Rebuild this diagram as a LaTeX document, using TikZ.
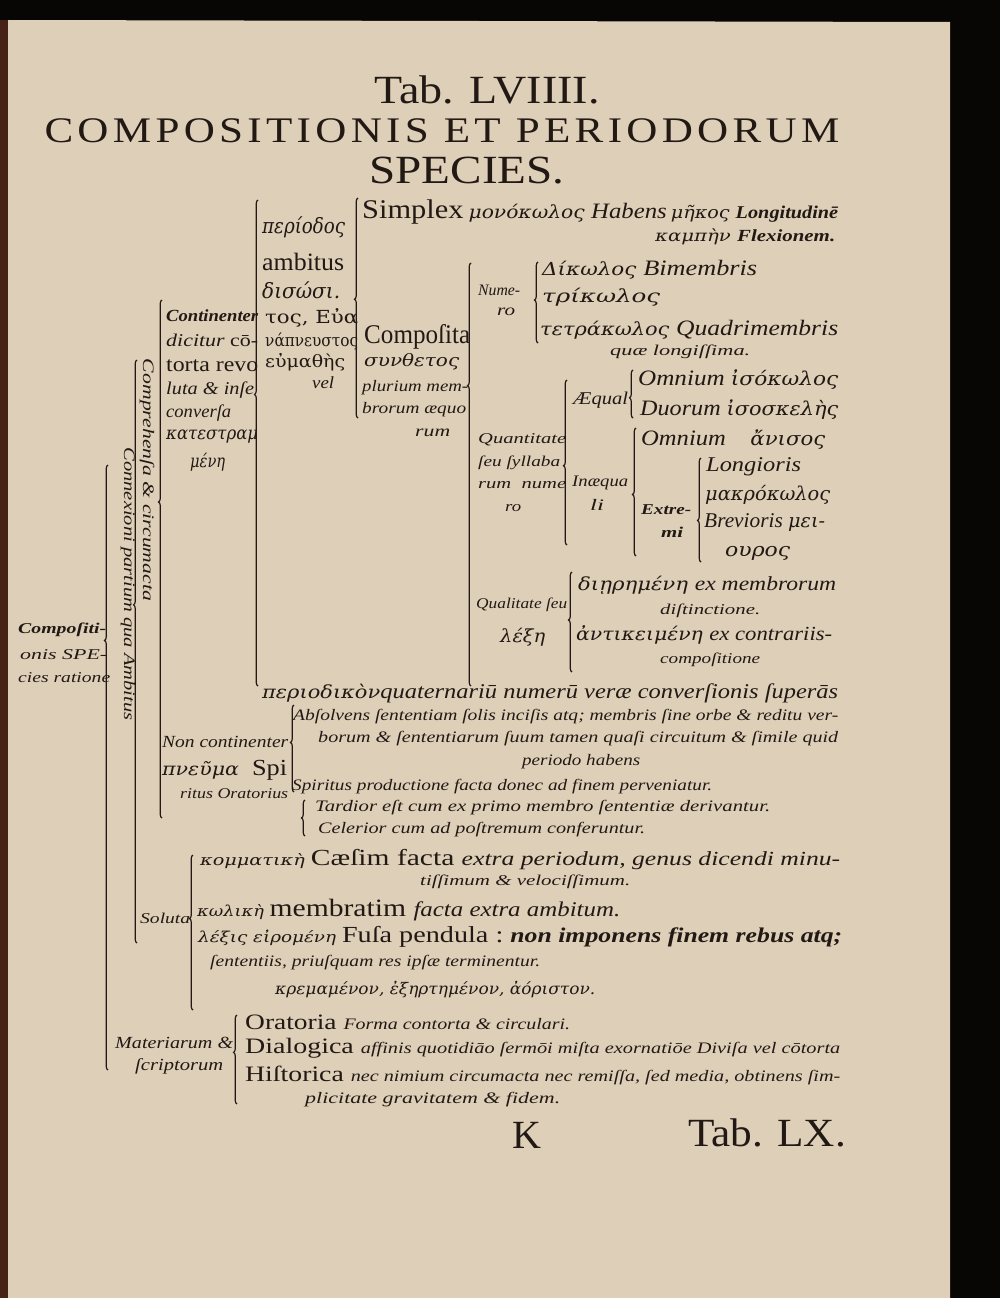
\documentclass[tikz,border=0pt]{standalone}
\usepackage{fontspec}
\setmainfont{Liberation Serif}
\newfontfamily\grk{DejaVu Serif}
\usepackage{graphicx}
\usetikzlibrary{decorations.pathreplacing}
\definecolor{ink}{RGB}{34,25,20}
\definecolor{paper}{RGB}{221,207,184}
\definecolor{scanblack}{RGB}{8,6,5}
\definecolor{spine}{RGB}{70,35,22}
\newcommand{\fs}[1]{\fontsize{#1}{#1}\selectfont}
\newcommand{\fw}[2]{\resizebox{#1pt}{\height}{#2}}

\begin{document}
\begin{tikzpicture}[
    x=1pt, y=-1pt,
    txt/.style={anchor=west, inner sep=0pt, text=ink, font=\itshape},
    upr/.style={txt, font=\upshape},
    ctr/.style={inner sep=0pt, text=ink, font=\upshape},
    vert/.style={inner sep=0pt, text=ink, font=\itshape, rotate=-90},
    brk/.style={draw=ink, line width=1.2pt, decorate,
                decoration={brace, amplitude=3.5pt, aspect=#1}}
]
\useasboundingbox (0,0) rectangle (1000,1298);

% Scan and page
\fill[scanblack] (0,0) rectangle (1000,1298);
\fill[paper] (8,20) -- (950,22) -- (950,1298) -- (8,1298) -- cycle;
\fill[spine] (0,20) rectangle (8,1298);

% Title
\node[ctr] (tab)  at (487,90)  {\fw{225}{\fs{40}Tab. LVIIII.}};
\node[ctr] (comp) at (442,131) {\fw{795}{\fs{36}\addfontfeature{LetterSpace=10}COMPOSITIONIS ET PERIODORUM}};
\node[ctr] (spec) at (467,171) {\fw{195}{\fs{40}SPECIES.}};

% Margin labels
\node[txt] (cspec1) at (18,630) {\fw{88}{\bfseries\fs{15}Compoſiti-}};
\node[txt] (cspec2) at (20,655) {\fw{87}{\fs{15}onis SPE-}};
\node[txt] (cspec3) at (18,678) {\fw{92}{\fs{15}cies ratione}};
\node[vert] (connex)  at (128,584) {\fw{273}{\fs{16}Connexioni partium qua Ambitus}};
\node[vert] (compreh) at (147,480) {\fw{242}{\fs{16}Comprehenſa \& circumacta}};

% Continenter
\node[txt] (contin)  at (166,316) {\fw{92}{\bfseries\fs{17}Continenter}};
\node[txt] (dicit)   at (166,340) {\fw{92}{\fs{18}dicitur \upshape cō-}};
\node[upr] (torta)   at (166,366) {\fw{92}{\fs{21}torta revo}};
\node[txt] (luta)    at (166,390) {\fw{88}{\fs{18}luta \& inſe}};
\node[txt] (convers) at (166,413) {\fw{65}{\fs{18}converſa}};
\node[txt] (katestr) at (166,437) {\fw{92}{\fs{18}\grk κατεστραμ}};
\node[txt] (mene)    at (190,462) {\fw{35}{\fs{18}\grk μένη}};

% Periodus
\node[txt] (period) at (262,227) {\fw{83}{\fs{21}\grk περίοδος}};
\node[upr] (ambit)  at (262,262) {\fw{82}{\fs{25}ambitus}};
\node[txt] (disos)  at (262,290) {\fw{78}{\fs{21}\grk δισώσι.}};
\node[upr] (evan1)  at (265,318) {\fw{93}{\fs{18}\grk τος, Εὐα}};
\node[upr] (evan2)  at (265,341) {\fw{93}{\fs{17}\grk νάπνευστος}};
\node[upr] (evan3)  at (265,362) {\fw{80}{\fs{17}\grk εὐμαθὴς}};
\node[txt] (vel1)   at (312,383) {\fw{22}{\fs{17}vel}};

% Simplex
\node[txt] (simplex) at (362,212) {\fw{476}{\fs{27}\upshape Simplex\,\grk\itshape\fs{18}μονόκωλος\ \rmfamily\fs{22}Habens\,\grk\fs{17}μῆκος\ \rmfamily\bfseries\fs{18}Longitudinē}};
\node[txt] (flex)    at (655,237) {\fw{180}{\grk\fs{16}καμπὴν\ \rmfamily\bfseries\fs{17}Flexionem.}};

% Composita
\node[upr] (compos) at (364,337) {\fw{106}{\fs{27}Compoſita}};
\node[txt] (synth)  at (364,362) {\fw{95}{\fs{17}\grk συνθετος}};
\node[txt] (plur)   at (362,388) {\fw{106}{\fs{16}plurium mem-}};
\node[txt] (bror)   at (362,410) {\fw{104}{\fs{16}brorum æquo}};
\node[txt] (rum)    at (415,433) {\fw{35}{\fs{16}rum}};

% Numero
\node[txt] (nume)   at (478,290) {\fw{42}{\fs{16}Nume-}};
\node[txt] (ro1)    at (497,312) {\fw{18}{\fs{16}ro}};
\node[txt] (bimem)  at (542,270) {\fw{215}{\grk\fs{18}Δίκωλος\ \rmfamily\fs{22}Bimembris}};
\node[txt] (trik)   at (542,297) {\fw{118}{\grk\fs{18}τρίκωλος}};
\node[txt] (quadr)  at (540,330) {\fw{298}{\grk\fs{18}τετράκωλος\ \rmfamily\fs{22}Quadrimembris}};
\node[txt] (longis) at (610,352) {\fw{140}{\fs{15}quæ longiſſima.}};

% Quantitate
\node[txt] (quant1) at (478,440) {\fw{88}{\fs{15}Quantitate}};
\node[txt] (quant2) at (478,463) {\fw{82}{\fs{15}ſeu ſyllaba}};
\node[txt] (quant3) at (478,485) {\fw{88}{\fs{15}rum\ \ nume}};
\node[txt] (ro2)    at (505,508) {\fw{16}{\fs{15}ro}};
\node[txt] (aequal) at (573,400) {\fw{55}{\fs{18}Æqual}};
\node[txt] (inaeq)  at (572,483) {\fw{56}{\fs{16}Inæqua}};
\node[txt] (li)     at (590,505) {\fw{14}{\fs{16}li}};
\node[txt] (omn1)   at (638,380) {\fw{200}{\fs{22}Omnium \grk\fs{19}ἰσόκωλος}};
\node[txt] (duor)   at (640,410) {\fw{198}{\fs{22}Duorum \grk\fs{19}ἰσοσκελὴς}};
\node[txt] (omn2)   at (641,440) {\fw{184}{\fs{22}Omnium\quad \grk\fs{19}ἄνισος}};
\node[txt] (extre)  at (641,510) {\fw{50}{\bfseries\fs{15}Extre-}};
\node[txt] (mi)     at (661,532) {\fw{22}{\bfseries\fs{15}mi}};
\node[txt] (longio) at (706,467) {\fw{95}{\fs{21}Longioris}};
\node[txt] (makro)  at (705,495) {\fw{125}{\grk\fs{19}μακρόκωλος}};
\node[txt] (brevio) at (704,523) {\fw{121}{\fs{21}Brevioris \grk\fs{19}μει-}};
\node[txt] (meiur)  at (725,553) {\fw{65}{\grk\fs{19}ουρος}};

% Qualitate
\node[txt] (qual1)  at (476,605) {\fw{91}{\fs{15}Qualitate ſeu}};
\node[txt] (qual2)  at (500,637) {\fw{45}{\grk\fs{18}λέξη}};
\node[txt] (dier)   at (578,585) {\fw{258}{\grk\fs{18}διῃρημένη\ \rmfamily\fs{20}ex membrorum}};
\node[txt] (distin) at (660,611) {\fw{100}{\fs{15}diſtinctione.}};
\node[txt] (antik)  at (576,635) {\fw{256}{\grk\fs{18}ἀντικειμένη\ \rmfamily\fs{20}ex contrariis-}};
\node[txt] (compo)  at (660,660) {\fw{100}{\fs{15}compoſitione}};

% Periodicon
\node[txt] (perid) at (262,693) {\fw{576}{\grk\fs{18}περιοδικὸν\rmfamily\fs{21}quaternariū numerū veræ converſionis ſuperās}};

% Non continenter
\node[txt] (noncont) at (162,742) {\fw{126}{\fs{17}Non continenter}};
\node[txt] (pneuma)  at (162,770) {\fw{125}{\grk\fs{18}πνεῦμα\ \ \rmfamily\upshape\fs{23}Spi}};
\node[txt] (ritus)   at (180,794) {\fw{108}{\fs{15}ritus Oratorius}};
\node[txt] (absol)   at (293,717) {\fw{545}{\fs{16}Abſolvens ſententiam ſolis inciſis atq; membris ſine orbe \& reditu ver-}};
\node[txt] (borum)   at (318,739) {\fw{520}{\fs{16}borum \& ſententiarum ſuum tamen quaſi circuitum \& ſimile quid}};
\node[txt] (habens)  at (522,762) {\fw{118}{\fs{16}periodo habens}};
\node[txt] (spirit)  at (292,787) {\fw{420}{\fs{16}Spiritus productione facta donec ad finem perveniatur.}};
\node[txt] (tard)    at (315,808) {\fw{455}{\fs{16}Tardior eſt cum ex primo membro ſententiæ derivantur.}};
\node[txt] (celer)   at (318,830) {\fw{327}{\fs{16}Celerior cum ad poſtremum conferuntur.}};

% Soluta
\node[txt] (komm)   at (200,860) {\fw{640}{\grk\fs{15}κομματικὴ\ \rmfamily\upshape\fs{23}Cæſim facta \itshape\fs{20}extra periodum, genus dicendi minu-}};
\node[txt] (tiss)   at (420,882) {\fw{210}{\fs{15}tiſſimum \& velociſſimum.}};
\node[txt] (soluta) at (140,918) {\fw{50}{\fs{15}Soluta}};
\node[txt] (kolik)  at (197,910) {\fw{423}{\grk\fs{15}κωλικὴ\ \rmfamily\upshape\fs{25}membratim\ \itshape\fs{21}facta extra ambitum.}};
\node[txt] (fusa)   at (198,937) {\fw{644}{\grk\fs{15}λέξις εἰρομένη\ \rmfamily\upshape\fs{23}Fuſa pendula :\ \itshape\bfseries\fs{21}non imponens finem rebus atq;}};
\node[txt] (sent)   at (210,963) {\fw{330}{\fs{16}ſententiis, priuſquam res ipſæ terminentur.}};
\node[txt] (krem)   at (275,990) {\fw{320}{\grk\fs{16}κρεμαμένον, ἐξηρτημένον, ἀόριστον.}};

% Materiarum
\node[txt] (mater1) at (115,1043) {\fw{118}{\fs{17}Materiarum \&}};
\node[txt] (mater2) at (135,1066) {\fw{88}{\fs{17}ſcriptorum}};
\node[txt] (orat)   at (245,1022) {\fw{325}{\upshape\fs{22}Oratoria \itshape\fs{16}Forma contorta \& circulari.}};
\node[txt] (dialog) at (245,1048) {\fw{595}{\upshape\fs{22}Dialogica \itshape\fs{16}affinis quotidiāo ſermōi miſta exornatiōe Diviſa vel cōtorta}};
\node[txt] (histor) at (245,1075) {\fw{595}{\upshape\fs{22}Hiſtorica \itshape\fs{16}nec nimium circumacta nec remiſſa, ſed media, obtinens ſim-}};
\node[txt] (plicit) at (305,1100) {\fw{255}{\fs{16}plicitate gravitatem \& fidem.}};

% Footer
\node[ctr] (sigK)  at (527,1135) {\fs{40}K};
\node[ctr] (tablx) at (767,1133) {\fw{158}{\fs{40}Tab. LX.}};

% Bracket ends
\coordinate (a-top) at (108,465);  \coordinate (a-bot) at (108,1070);
\coordinate (b-top) at (137,360);  \coordinate (b-bot) at (137,943);
\coordinate (c-top) at (162,300);  \coordinate (c-bot) at (162,818);
\coordinate (d-top) at (258,200);  \coordinate (d-bot) at (258,686);
\coordinate (e-top) at (358,198);  \coordinate (e-bot) at (358,418);
\coordinate (f-top) at (471,263);  \coordinate (f-bot) at (471,686);
\coordinate (g-top) at (538,262);  \coordinate (g-bot) at (538,343);
\coordinate (h-top) at (567,380);  \coordinate (h-bot) at (567,545);
\coordinate (i-top) at (633,370);  \coordinate (i-bot) at (633,418);
\coordinate (j-top) at (636,428);  \coordinate (j-bot) at (636,556);
\coordinate (k-top) at (701,458);  \coordinate (k-bot) at (701,562);
\coordinate (l-top) at (572,572);  \coordinate (l-bot) at (572,672);
\coordinate (m-top) at (294,705);  \coordinate (m-bot) at (294,792);
\coordinate (n-top) at (305,800);  \coordinate (n-bot) at (305,836);
\coordinate (o-top) at (193,855);  \coordinate (o-bot) at (193,1010);
\coordinate (p-top) at (237,1015); \coordinate (p-bot) at (237,1104);

% Brackets
\draw[brk=0.71] (a-bot) -- (a-top);
\draw[brk=0.58] (b-bot) -- (b-top);
\draw[brk=0.61] (c-bot) -- (c-top);
\draw[brk=0.60] (d-bot) -- (d-top);
\draw[brk=0.54] (e-bot) -- (e-top);
\draw[brk=0.71] (f-bot) -- (f-top);
\draw[brk=0.53] (g-bot) -- (g-top);
\draw[brk=0.48] (h-bot) -- (h-top);
\draw[brk=0.42] (i-bot) -- (i-top);
\draw[brk=0.48] (j-bot) -- (j-top);
\draw[brk=0.40] (k-bot) -- (k-top);
\draw[brk=0.52] (l-bot) -- (l-top);
\draw[brk=0.57] (m-bot) -- (m-top);
\draw[brk=0.50] (n-bot) -- (n-top);
\draw[brk=0.59] (o-bot) -- (o-top);
\draw[brk=0.58] (p-bot) -- (p-top);

\end{tikzpicture}
\end{document}
